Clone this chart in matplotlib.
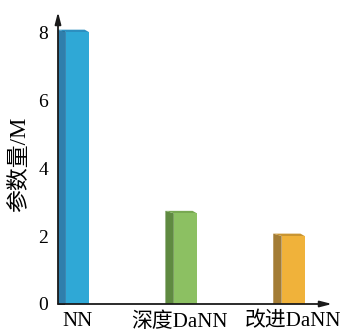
import matplotlib.pyplot as plt
from matplotlib.patches import Polygon

plt.rcParams['font.family'] = ['Liberation Serif', 'Noto Sans CJK SC']

categories = ['NN', '深度DaNN', '改进DaNN']
params_m = [8.0, 2.67, 2.0]
front_colors = ['#2fa8d6', '#8cc062', '#f0b23a']
side_colors = ['#2f7fac', '#5f8a41', '#a37c35']
top_colors = ['#2c8fc0', '#78a852', '#c99532']

W = 0.213   # front face width
D = 0.078   # side face depth
DY = 0.07   # top face rise

fig = plt.figure(figsize=(3.44, 3.33), dpi=100)
ax = fig.add_axes([58 / 344, 29 / 333, 274 / 344, 292 / 333])

for i, (h, fc, sc, tc) in enumerate(zip(params_m, front_colors, side_colors, top_colors)):
    xl = i - W / 2
    ax.add_patch(Polygon([(xl - D, 0), (xl, 0), (xl, h), (xl - D, h + DY)],
                         closed=True, facecolor=sc, edgecolor='none', zorder=2))
    ax.add_patch(Polygon([(xl - D, h + DY), (xl + W - D * 0.5, h + DY),
                          (xl + W, h), (xl, h)],
                         closed=True, facecolor=tc, edgecolor='none', zorder=2))
    ax.bar(i, h, width=W, color=fc, zorder=2)

ax.set_xlim(-0.18, 2.36)
ax.set_ylim(0, 8.59)
ax.set_xticks([0, 0.95, 2.0])
ax.set_xticklabels(categories, fontsize=15)
ax.tick_params(axis='x', length=0, pad=6)
ax.set_yticks([0, 2, 4, 6, 8])
ax.tick_params(axis='y', direction='in', length=5, width=1.2, pad=7, labelsize=14)

for s in ['top', 'right', 'left', 'bottom']:
    ax.spines[s].set_visible(False)

# axis lines with arrow heads
arrow = dict(arrowstyle='-|>,head_length=0.7,head_width=0.18', color='#1a1a1a', lw=1.3,
             shrinkA=0, shrinkB=0)
ax.annotate('', xy=(0, 1), xytext=(0, 0), xycoords='axes fraction', arrowprops=arrow)
ax.annotate('', xy=(1, 0), xytext=(0, 0), xycoords='axes fraction', arrowprops=arrow)

fig.text(20 / 344, 1 - 164 / 333, '参数量/M', rotation=90, fontsize=16.5,
         ha='center', va='center')

fig.savefig('out.png', dpi=100, facecolor='white')
